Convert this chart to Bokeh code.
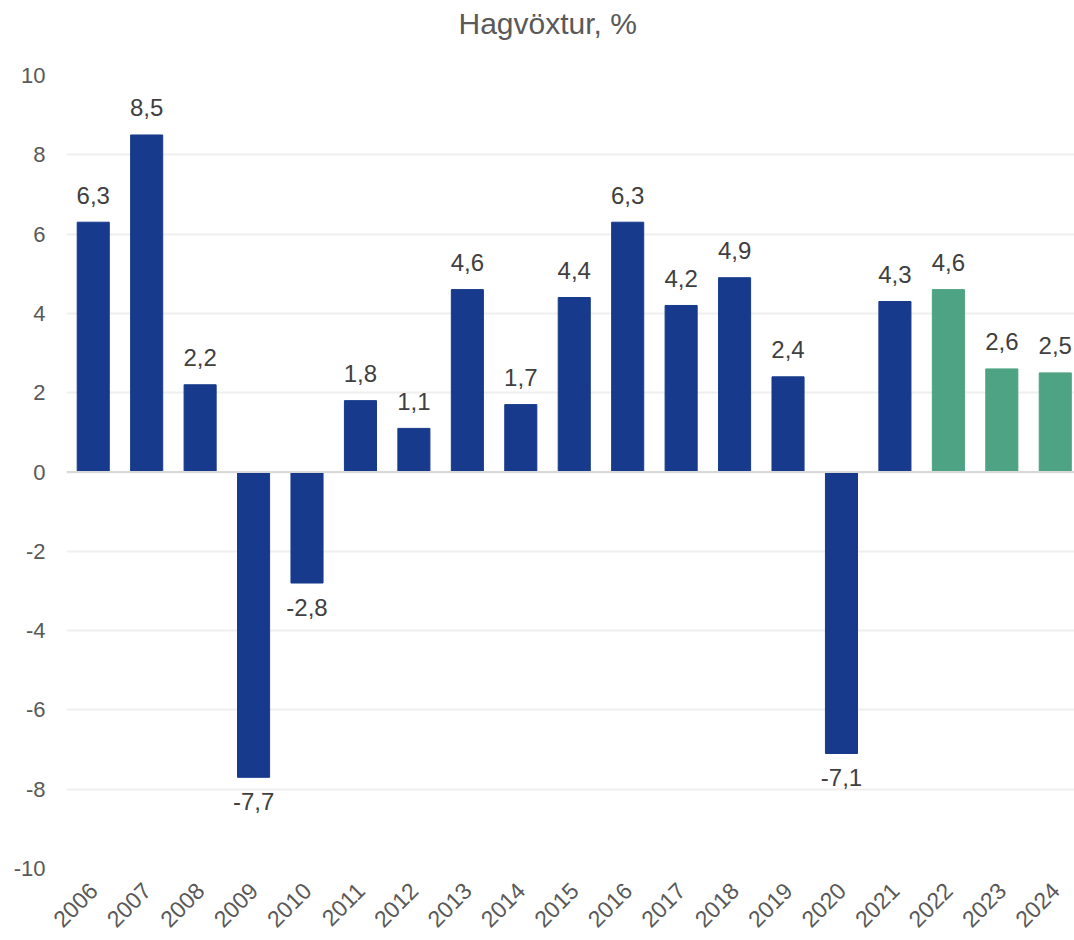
from bokeh.plotting import figure
from bokeh.models import ColumnDataSource, Range1d, FixedTicker, Span, Title
from bokeh.embed import file_html
from bokeh.resources import INLINE
from bokeh.core.properties import value

# ---- data ----
years = [2006, 2007, 2008, 2009, 2010, 2011, 2012, 2013, 2014, 2015,
         2016, 2017, 2018, 2019, 2020, 2021, 2022, 2023, 2024]
growth = [6.3, 8.5, 2.2, -7.7, -2.8, 1.8, 1.1, 4.6, 1.7, 4.4,
          6.3, 4.2, 4.9, 2.4, -7.1, 4.3, 4.6, 2.6, 2.5]
forecast_years = [2022, 2023, 2024]
y_ticks = [-10, -8, -6, -4, -2, 0, 2, 4, 6, 8, 10]
title_text = "Hagvöxtur, %"

BLUE = "#173A8C"
GREEN = "#4DA383"
FONT = "Liberation Sans"

colors = [GREEN if y in forecast_years else BLUE for y in years]
labels = [f"{v:.1f}".replace(".", ",") for v in growth]
pos = [v >= 0 for v in growth]

src_pos = ColumnDataSource(dict(
    x=[y for y, p in zip(years, pos) if p],
    v=[v for v, p in zip(growth, pos) if p],
    t=[t for t, p in zip(labels, pos) if p]))
src_neg = ColumnDataSource(dict(
    x=[y for y, p in zip(years, pos) if not p],
    v=[v for v, p in zip(growth, pos) if not p],
    t=[t for t, p in zip(labels, pos) if not p]))
src = ColumnDataSource(dict(x=years, top=growth, color=colors))

p = figure(width=1074, height=940, output_backend="svg", toolbar_location=None,
           x_range=Range1d(years[0] - 0.5, years[-1] + 0.36),
           y_range=Range1d(-10, 10),
           min_border_left=66, min_border_right=0, min_border_top=74,
           min_border_bottom=72)

# spacer (nearest the frame), then the real title above it
spacer = Title(text=" ", text_font=FONT, text_font_size="2px", standoff=24,
               text_color="white")
p.add_layout(spacer, "above")
main_title = Title(text=title_text, align="left", vertical_align="top", offset=392,
                   text_font=FONT, text_font_size="30px", text_font_style="normal",
                   text_color="#595959", standoff=12)
p.add_layout(main_title, "above")

p.outline_line_color = None
p.background_fill_color = "white"
p.border_fill_color = "white"

# grid
p.xgrid.grid_line_color = None
p.ygrid.ticker = FixedTicker(ticks=y_ticks)
p.ygrid.grid_line_color = "#EFEFEF"
p.ygrid.grid_line_width = 2

# y axis
p.yaxis.ticker = FixedTicker(ticks=y_ticks)
p.yaxis.major_label_overrides = {t: str(t) for t in y_ticks}
p.yaxis.axis_line_color = None
p.yaxis.major_tick_line_color = None
p.yaxis.minor_tick_line_color = None
p.yaxis.major_tick_out = 0
p.yaxis.major_tick_in = 0
p.yaxis.major_label_standoff = 21
p.yaxis.major_label_text_font = FONT
p.yaxis.major_label_text_font_size = "22px"
p.yaxis.major_label_text_color = "#595959"

# x axis
p.xaxis.ticker = FixedTicker(ticks=years)
p.xaxis.major_label_overrides = {y: str(y) for y in years}
p.xaxis.major_label_orientation = 0.785398
p.xaxis.axis_line_color = None
p.xaxis.major_tick_line_color = None
p.xaxis.minor_tick_line_color = None
p.xaxis.major_tick_out = 0
p.xaxis.major_tick_in = 0
p.xaxis.major_label_standoff = 18
p.xaxis.major_label_text_font = FONT
p.xaxis.major_label_text_font_size = "23px"
p.xaxis.major_label_text_color = "#595959"

p.vbar(x="x", top="top", bottom=0, width=0.6, color="color", source=src)

p.add_layout(Span(location=0, dimension="width", line_color="#D9D9D9", line_width=2))

p.text(x="x", y="v", text="t", source=src_pos, text_align="center",
       text_baseline="alphabetic", y_offset=-27,
       text_font=value(FONT), text_font_size="24px", text_color="#404040")
p.text(x="x", y="v", text="t", source=src_neg, text_align="center",
       text_baseline="alphabetic", y_offset=24,
       text_font=value(FONT), text_font_size="24px", text_color="#404040")

open("out.html", "w").write(file_html(p, INLINE))
